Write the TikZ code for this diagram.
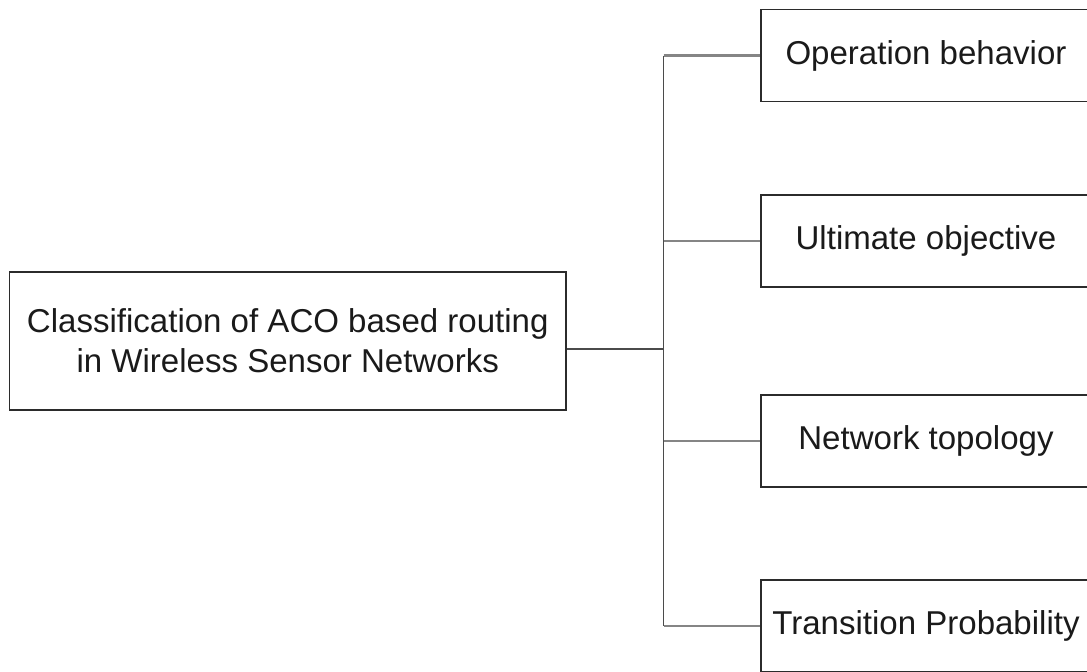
\documentclass[tikz,border=0pt]{standalone}
\usepackage{fontspec}
\setmainfont{Liberation Sans}
\usepackage{xcolor}
\usetikzlibrary{positioning,calc}
\definecolor{edge}{HTML}{2B2B2B}
\definecolor{txt}{HTML}{1A1A1A}
\definecolor{lnk}{HTML}{858585}
\tikzset{
  cls/.style={draw=edge, line width=1.1pt, fill=white, text=txt, align=center, inner sep=0pt},
  leaf/.style={cls, minimum width=6.6cm, minimum height=1.84cm},
  brn/.style={draw=lnk, line width=1.3pt},
  trk/.style={draw=edge!85, line width=1.1pt}}

\begin{document}
\begin{tikzpicture}[font=\fontsize{18.8}{22.8}\selectfont]
\clip (0,0) rectangle (21.74,-13.42);
\node[cls, minimum width=11.13cm, minimum height=2.76cm] (root) at (5.755,-6.82) {Classification of ACO based routing\\in Wireless Sensor Networks};
\node[leaf] (ob) at (18.52,-1.11) {Operation behavior};
\node[leaf] (uo) at (18.52,-4.82) {Ultimate objective};
\node[leaf] (nt) at (18.52,-8.826) {Network topology};
\node[leaf] (tp) at (18.52,-12.52) {Transition Probability};
\coordinate (hub) at (13.27,-6.98);
\draw[trk] (root.east |- hub) -- (hub);
\draw[trk] (hub |- ob.west) -- (hub |- tp.west);
\foreach \n in {ob,uo,nt,tp}
  \draw[brn] (hub |- \n.west) -- (\n.west);
\end{tikzpicture}
\end{document}
